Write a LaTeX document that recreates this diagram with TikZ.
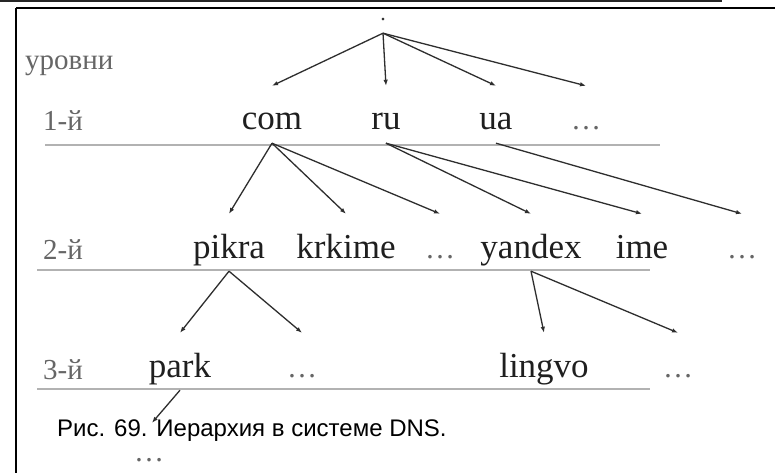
\documentclass[tikz,border=0pt]{standalone}
\usepackage{fontspec}
\setmainfont{Liberation Serif}
\newfontfamily\capfont{Liberation Sans}
\usetikzlibrary{arrows.meta}
\begin{document}
\begin{tikzpicture}[x=1pt,y=-1pt,
  dom/.style={font=\fontsize{35}{35}\selectfont, text=black!88, inner sep=0pt,
              text height=44pt, text depth=13pt, anchor=base},
  dts/.style={font=\fontsize{30}{30}\selectfont, text=black!60, inner sep=0pt,
              text height=44pt, text depth=13pt, anchor=base},
  lev/.style={font=\fontsize{29}{29}\selectfont, text=black!60, inner sep=0pt, anchor=base west},
  arr/.style={draw=black!82, line width=1.3pt, -{Latex[length=6pt,width=4.5pt]}},
  hl/.style={draw=black!30, line width=1.2pt},
  frame/.style={draw=black, line width=2.5pt}
]
\useasboundingbox (0,0) rectangle (775,473);
\fill[white] (0,0) rectangle (775,473);
% frame
\fill[black!85] (0,0) rectangle (722,2.5);
\draw[frame] (16,8) -- (775,8);
\draw[frame] (16,8) -- (16,473);

% level labels and rules
\node[lev] (lvl)  at (25,70)  {уровни};
\node[lev] (lv1)  at (43,131) {1-й};
\node[lev] (lv2)  at (43,259) {2-й};
\node[lev] (lv3)  at (43,379) {3-й};
\draw[hl] (45,145) -- (660,145);
\draw[hl] (37,270) -- (650,270);
\draw[hl] (37,389) -- (650,389);

% root
\node[font=\fontsize{22}{22}\selectfont, text=black!80, inner sep=0pt,
      text height=0pt, text depth=12.5pt, anchor=base] (root) at (383,20.5) {.};

% level 1
\node[dom] (com) at (272,130) {com};
\node[dom] (ru)  at (386,130) {ru};
\node[dom] (ua)  at (496,130) {ua};
\node[dts] (d1)  at (586,130) {…};

% level 2
\node[dom] (pikra)  at (229,258) {pikra};
\node[dom] (krkime) at (346,258) {krkime};
\node[dts] (d2a)    at (440,258) {…};
\node[dom] (yandex) at (531,258) {yandex};
\node[dom] (ime)    at (642,258) {ime};
\node[dts] (d2b)    at (742,258) {…};

% level 3
\node[dom] (park)   at (180,377) {park};
\node[dts] (d3a)    at (302,377) {…};
\node[dom] (lingvo) at (544,377) {lingvo};
\node[dts] (d3b)    at (678,377) {…};

% below
\node[dts, text height=10pt, text depth=3pt] (d4) at (149,461) {…};

% connectors
\draw[arr] (root.south) -- (com.north);
\draw[arr] (root.south) -- (ru.north);
\draw[arr] (root.south) -- (ua.north);
\draw[arr] (root.south) -- (d1.north);
\draw[arr] (com.south) -- (pikra.north);
\draw[arr] (com.south) -- (krkime.north);
\draw[arr] (com.south) -- (d2a.north);
\draw[arr] (ru.south) -- (yandex.north);
\draw[arr] (ru.south) -- (ime.north);
\draw[arr] (ua.south) -- (d2b.north);
\draw[arr] (pikra.south) -- (park.north);
\draw[arr] (pikra.south) -- (d3a.north);
\draw[arr] (yandex.south) -- (lingvo.north);
\draw[arr] (yandex.south) -- (d3b.north);
\draw[arr] (park.south) -- ([xshift=3pt,yshift=28pt]d4.north);

% caption
\node[font=\capfont\fontsize{24}{24}\selectfont, inner sep=0pt, anchor=base west] (cap)
  at (57,436) {Рис. 69. Иерархия в системе DNS.};
\end{tikzpicture}
\end{document}
